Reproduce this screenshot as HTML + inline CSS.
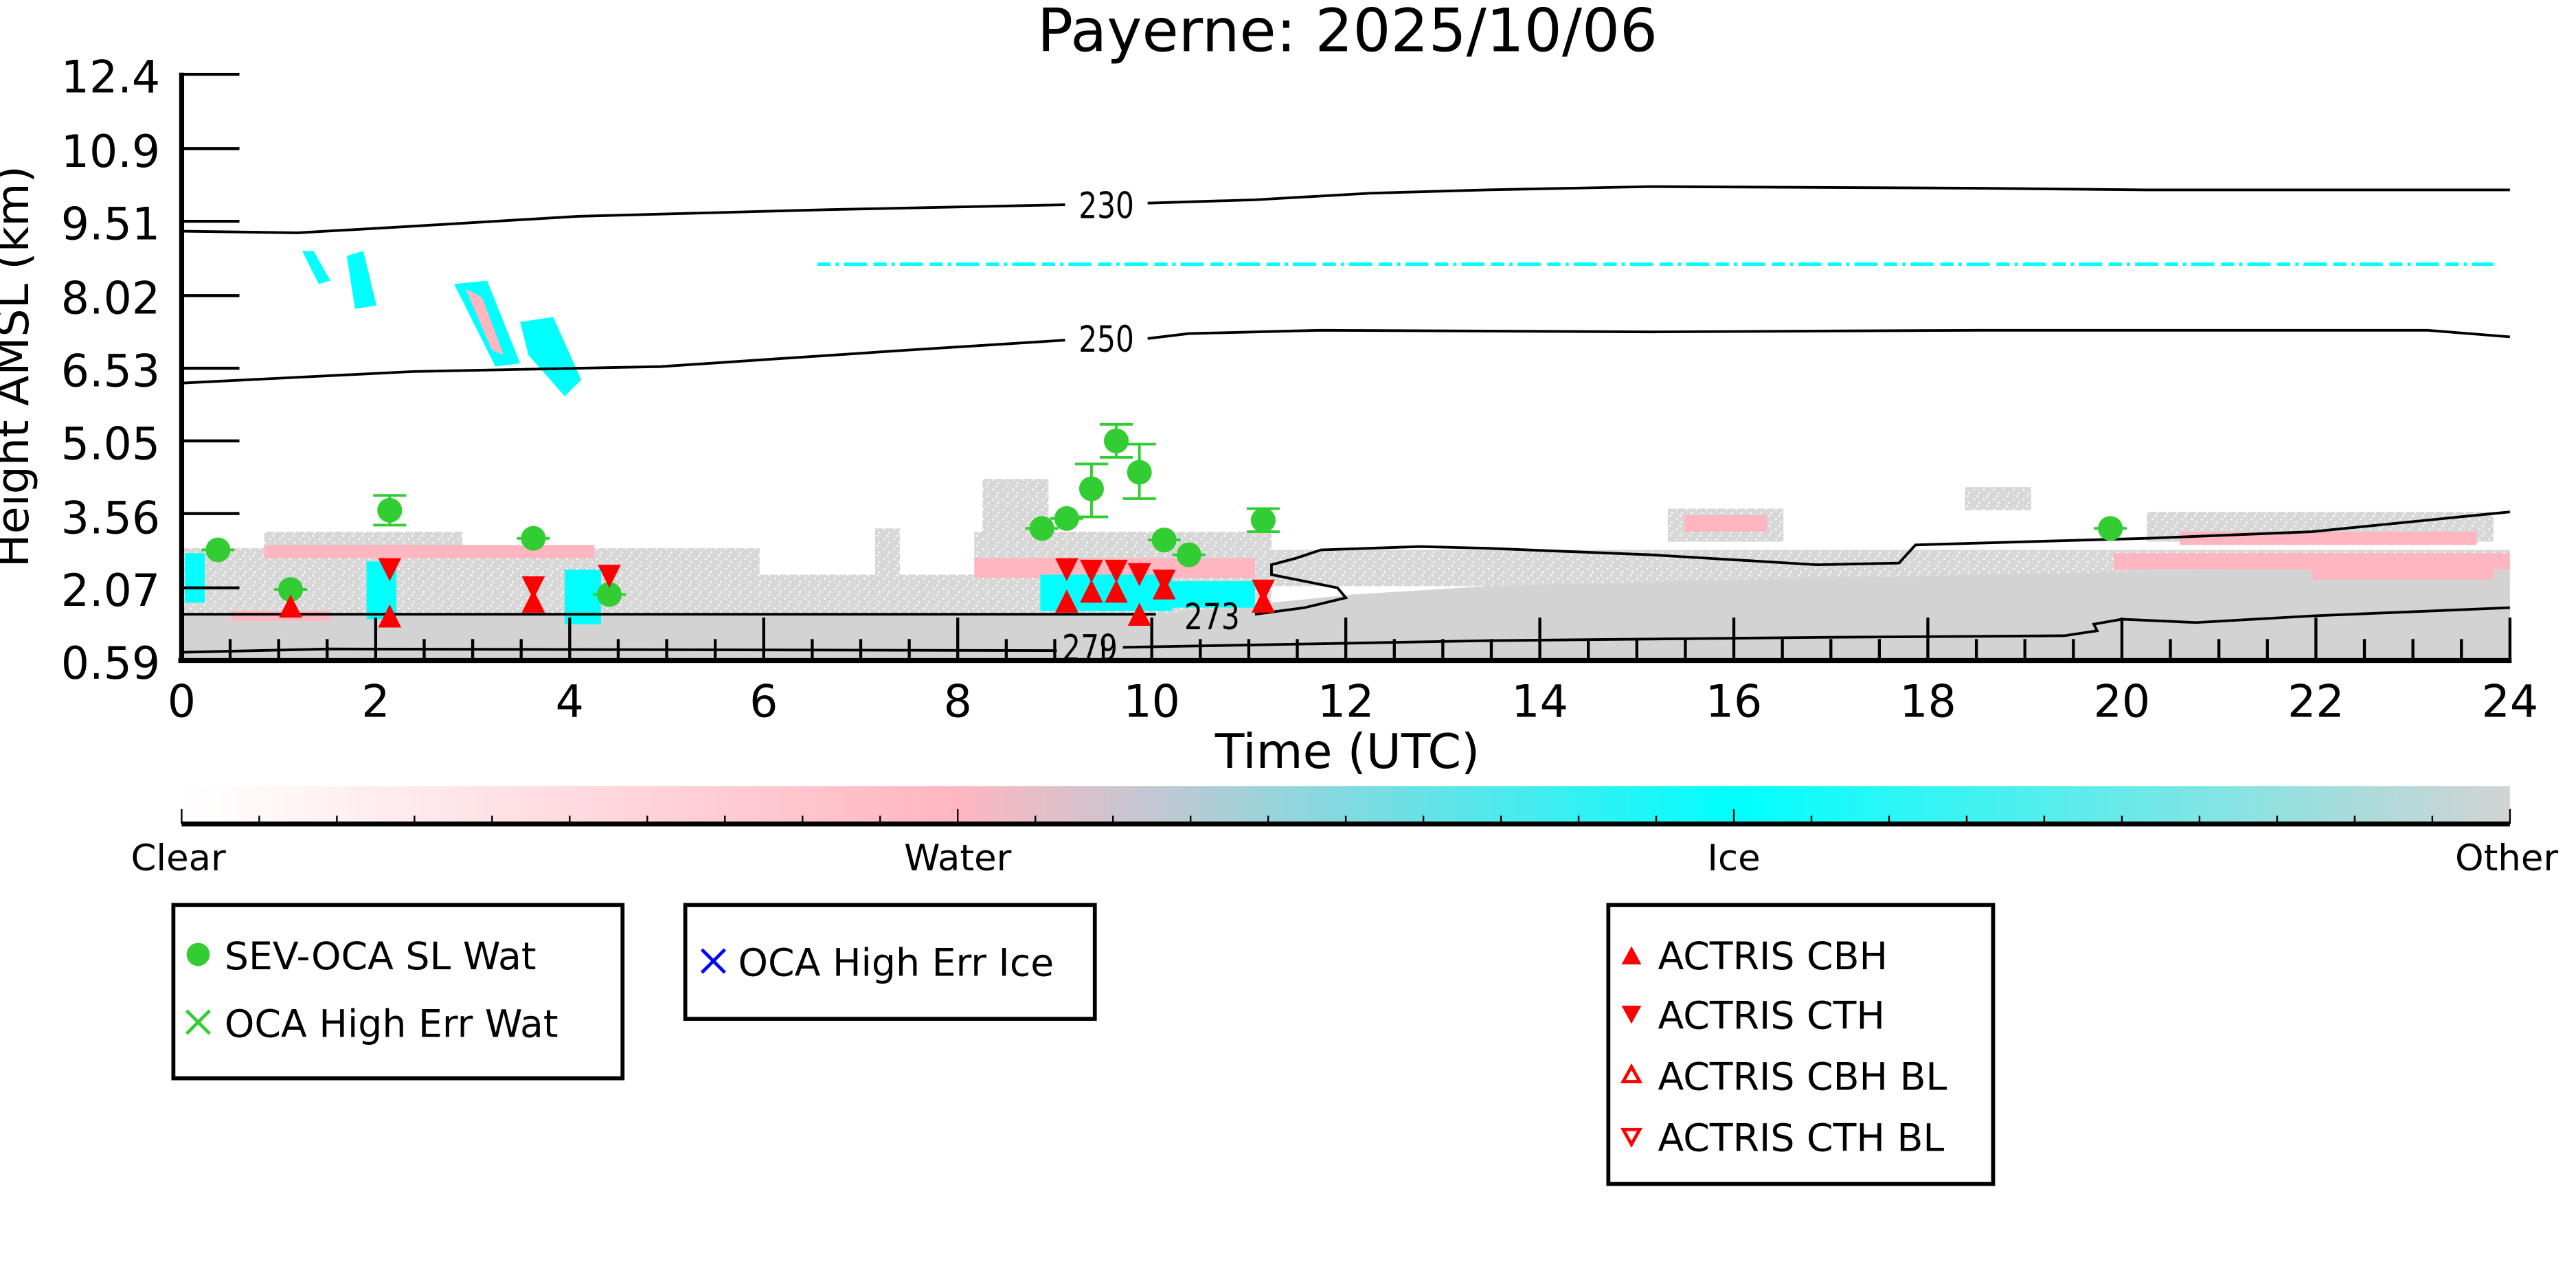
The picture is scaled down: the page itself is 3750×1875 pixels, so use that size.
<!DOCTYPE html>
<html><head><meta charset="utf-8"><style>
html,body{margin:0;padding:0;background:#fff;width:3750px;height:1875px;overflow:hidden}
svg{display:block}
text{font-family:"DejaVu Sans","Liberation Sans",sans-serif;fill:#000}
</style></head><body>
<svg width="3750" height="1875" viewBox="0 0 1560 780" xmlns="http://www.w3.org/2000/svg">
<defs>
<linearGradient id="cb" x1="0" x2="1" y1="0" y2="0">
<stop offset="0" stop-color="#ffffff"/>
<stop offset="0.333" stop-color="#ffb6c1"/>
<stop offset="0.42" stop-color="#c0c8d2"/>
<stop offset="0.667" stop-color="#00ffff"/>
<stop offset="1" stop-color="#d3d3d3"/>
</linearGradient>
<pattern id="spk" width="6" height="6" patternUnits="userSpaceOnUse">
<rect width="6" height="6" fill="#d3d3d3"/>
<rect x="1" y="2" width="1" height="1" fill="#fff"/>
<rect x="4" y="4" width="1" height="1" fill="#fff"/>
<rect x="3" y="0" width="1" height="1" fill="#fff"/>
</pattern>
</defs>
<text x="816" y="31" font-size="36" text-anchor="middle">Payerne: 2025/10/06</text>

<g>
<g fill="url(#spk)" opacity="0.9">
<rect x="110" y="332" width="350" height="40"/>
<rect x="160" y="322" width="120" height="12"/>
<rect x="460" y="348" width="130" height="24"/>
<rect x="590" y="322" width="180" height="50"/>
<rect x="770" y="333" width="750" height="22"/>
<rect x="1010" y="308" width="70" height="20"/>
<rect x="1300" y="310" width="210" height="18"/>
<rect x="1190" y="295" width="40" height="14"/>
<rect x="530" y="320" width="15" height="50"/>
<rect x="595" y="290" width="40" height="40"/>
</g>
<polygon fill="#d3d3d3" points="110,372 700,372 760,366 820,360 900,355 1100,350 1520,342 1520,400 110,400"/>
<g fill="#ffb6c1">
<rect x="160" y="330" width="200" height="8"/>
<rect x="590" y="338" width="170" height="12"/>
<rect x="140" y="370" width="60" height="6"/>
<rect x="1280" y="335" width="240" height="10"/>
<rect x="1320" y="322" width="180" height="8"/>
<rect x="1020" y="312" width="50" height="10"/>
<rect x="1400" y="345" width="110" height="6"/>
</g>
<g fill="#00ffff">
<rect x="112" y="335" width="12" height="30"/>
<rect x="222" y="340" width="18" height="35"/>
<rect x="342" y="345" width="22" height="33"/>
<rect x="630" y="348" width="80" height="22"/>
<rect x="710" y="352" width="50" height="16"/>
<polygon points="183,152 190,152 200,170 193,172"/>
<polygon points="210,155 220,152 228,185 215,187"/>
<polygon points="275,172 295,170 315,220 300,222"/>
<polygon points="315,195 335,192 352,230 342,240 320,215"/>
</g>
<g fill="#ffb6c1"><polygon points="282,175 292,180 305,215 298,212"/></g>
<g stroke="#00ffff" stroke-width="2" stroke-dasharray="8,3,2,3,14,4">
<line x1="495" y1="160" x2="1510" y2="160"/>
</g>
</g>

<g fill="none" stroke="#000" stroke-width="1.6">
<path d="M110,140 L180,141 L250,137 L350,131 L500,127 L645,124"/>
<path d="M695,123 L760,121 L830,117 L900,115 L1000,113 L1200,114 L1300,115 L1520,115"/>
<path d="M110,232 L250,225 L400,222 L550,212 L645,206"/>
<path d="M695,205 L720,202 L800,200 L1000,201 L1200,200 L1470,200 L1520,204"/>
<path d="M110,372 L400,372 L700,372"/>
<path d="M760,372 L790,368 L815,362 L810,356 L790,352 L770,348 L770,342 L785,338 L800,333 L860,331 L900,332 L1000,336 L1100,342 L1150,341 L1160,330 L1300,326 L1400,322 L1520,310"/>
<path d="M110,395 L200,393 L640,394"/>
<path d="M680,392 L900,388 L1100,386 L1250,385 L1270,382 L1268,378 L1285,375 L1330,377 L1400,373 L1520,368"/>
</g>
<g font-size="22" text-anchor="middle">
<text transform="translate(670,132) scale(0.8,1)">230</text>
<text transform="translate(670,213) scale(0.8,1)">250</text>
<text transform="translate(734,381) scale(0.8,1)">273</text>
<text transform="translate(660,400) scale(0.8,1)">279</text>
</g>

<g stroke="#32cd32" stroke-width="1.6">
<line x1="122" y1="333" x2="142" y2="333"/>
<line x1="166" y1="357" x2="186" y2="357"/>
<line x1="236" y1="300" x2="236" y2="318"/><line x1="226" y1="300" x2="246" y2="300"/><line x1="226" y1="318" x2="246" y2="318"/>
<line x1="313" y1="326" x2="333" y2="326"/>
<line x1="359" y1="360" x2="379" y2="360"/>
<line x1="621" y1="320" x2="641" y2="320"/>
<line x1="636" y1="314" x2="656" y2="314"/>
<line x1="661" y1="281" x2="661" y2="313"/><line x1="651" y1="281" x2="671" y2="281"/><line x1="651" y1="313" x2="671" y2="313"/>
<line x1="676" y1="257" x2="676" y2="277"/><line x1="666" y1="257" x2="686" y2="257"/><line x1="666" y1="277" x2="686" y2="277"/>
<line x1="690" y1="269" x2="690" y2="302"/><line x1="680" y1="269" x2="700" y2="269"/><line x1="680" y1="302" x2="700" y2="302"/>
<line x1="695" y1="327" x2="715" y2="327"/>
<line x1="710" y1="336" x2="730" y2="336"/>
<line x1="765" y1="308" x2="765" y2="322"/><line x1="755" y1="308" x2="775" y2="308"/><line x1="755" y1="322" x2="775" y2="322"/>
<line x1="1268" y1="320" x2="1288" y2="320"/>
</g>
<g fill="#32cd32">
<circle cx="132" cy="333" r="7.5"/><circle cx="176" cy="357" r="7.5"/><circle cx="236" cy="309" r="7.5"/>
<circle cx="323" cy="326" r="7.5"/><circle cx="369" cy="360" r="7.5"/><circle cx="631" cy="320" r="7.5"/>
<circle cx="646" cy="314" r="7.5"/><circle cx="661" cy="296" r="7.5"/><circle cx="676" cy="267" r="7.5"/>
<circle cx="690" cy="286" r="7.5"/><circle cx="705" cy="327" r="7.5"/><circle cx="720" cy="336" r="7.5"/>
<circle cx="765" cy="315" r="7.5"/><circle cx="1278" cy="320" r="7.5"/>
</g>
<g fill="#ff0000">
<polygon points="169,374 183,374 176,360"/>
<polygon points="229,380 243,380 236,366"/>
<polygon points="316,371 330,371 323,357"/>
<polygon points="639,371 653,371 646,357"/>
<polygon points="654,365 668,365 661,351"/>
<polygon points="669,365 683,365 676,351"/>
<polygon points="683,379 697,379 690,365"/>
<polygon points="698,363 712,363 705,349"/>
<polygon points="758,371 772,371 765,357"/>
<polygon points="229,338 243,338 236,352"/>
<polygon points="316,349 330,349 323,363"/>
<polygon points="362,342 376,342 369,356"/>
<polygon points="639,338 653,338 646,352"/>
<polygon points="654,339 668,339 661,353"/>
<polygon points="669,339 683,339 676,353"/>
<polygon points="683,341 697,341 690,355"/>
<polygon points="698,345 712,345 705,359"/>
<polygon points="758,351 772,351 765,365"/>
</g>

<g stroke="#000" stroke-width="3" fill="none">
<line x1="110" y1="44" x2="110" y2="401"/>
<line x1="108" y1="400" x2="1521" y2="400"/>
</g>
<g stroke="#000" stroke-width="1.8">
<line x1="110" y1="45" x2="145" y2="45"/>
<line x1="110" y1="90" x2="145" y2="90"/>
<line x1="110" y1="134" x2="145" y2="134"/>
<line x1="110" y1="179" x2="145" y2="179"/>
<line x1="110" y1="223" x2="145" y2="223"/>
<line x1="110" y1="267" x2="145" y2="267"/>
<line x1="110" y1="311" x2="145" y2="311"/>
<line x1="110" y1="356" x2="145" y2="356"/>
</g>
<g stroke="#000" stroke-width="1.8" id="xt"></g>
<g font-size="27" text-anchor="end">
<text x="97" y="56">12.4</text>
<text x="97" y="101">10.9</text>
<text x="97" y="145">9.51</text>
<text x="97" y="190">8.02</text>
<text x="97" y="234">6.53</text>
<text x="97" y="278">5.05</text>
<text x="97" y="323">3.56</text>
<text x="97" y="367">2.07</text>
<text x="97" y="411">0.59</text>
</g>
<g font-size="27" text-anchor="middle" id="xl"></g>
<text x="816" y="465" font-size="29" text-anchor="middle">Time (UTC)</text>
<text transform="translate(17,222) rotate(-90)" font-size="27" text-anchor="middle">Height AMSL (km)</text>

<rect x="110" y="476" width="1410" height="22" fill="url(#cb)"/>
<g id="cbt" stroke="#000" stroke-width="1"></g>
<line x1="110" y1="499" x2="1520" y2="499" stroke="#000" stroke-width="3"/>
<g font-size="22" text-anchor="middle">
<text x="108" y="527">Clear</text>
<text x="580" y="527">Water</text>
<text x="1050" y="527">Ice</text>
<text x="1518" y="527">Other</text>
</g>

<g fill="none" stroke="#000" stroke-width="2.4">
<rect x="105" y="548" width="272" height="105"/>
<rect x="415" y="548" width="248" height="69"/>
<rect x="974" y="548" width="233" height="169"/>
</g>
<g font-size="23">
<circle cx="120" cy="578" r="7" fill="#32cd32"/>
<text x="136" y="587">SEV-OCA SL Wat</text>
<g stroke="#32cd32" stroke-width="2"><line x1="113" y1="612" x2="127" y2="626"/><line x1="127" y1="612" x2="113" y2="626"/></g>
<text x="136" y="628">OCA High Err Wat</text>
<g stroke="#0000ff" stroke-width="2"><line x1="425" y1="575" x2="439" y2="589"/><line x1="439" y1="575" x2="425" y2="589"/></g>
<text x="447" y="591">OCA High Err Ice</text>
<polygon points="982,584 994,584 988,573" fill="#ff0000"/>
<text x="1004" y="587">ACTRIS CBH</text>
<polygon points="982,609 994,609 988,620" fill="#ff0000"/>
<text x="1004" y="623">ACTRIS CTH</text>
<polygon points="983,655 993,655 988,646" fill="none" stroke="#ff0000" stroke-width="2"/>
<text x="1004" y="660">ACTRIS CBH BL</text>
<polygon points="983,684 993,684 988,693" fill="none" stroke="#ff0000" stroke-width="2"/>
<text x="1004" y="697">ACTRIS CTH BL</text>
</g>
</svg>
<script>
(function(){
var ns="http://www.w3.org/2000/svg";
var xt=document.getElementById("xt"),xl=document.getElementById("xl"),cbt=document.getElementById("cbt");
for(var i=0;i<=48;i++){
 var x=110+i*1410/48;
 var l=document.createElementNS(ns,"line");
 var major=(i%4==0);
 l.setAttribute("x1",x);l.setAttribute("x2",x);
 l.setAttribute("y1",400);l.setAttribute("y2",major?374:387);
 xt.appendChild(l);
 if(major){var t=document.createElementNS(ns,"text");t.setAttribute("x",x);t.setAttribute("y",434);t.textContent=(i/2);xl.appendChild(t);}
}
for(var j=0;j<=30;j++){
 var x2=110+j*1410/30;
 var m=document.createElementNS(ns,"line");
 m.setAttribute("x1",x2);m.setAttribute("x2",x2);
 m.setAttribute("y1",499);m.setAttribute("y2",(j%10==0)?490:494);
 cbt.appendChild(m);
}
})();
</script>
</body></html>
